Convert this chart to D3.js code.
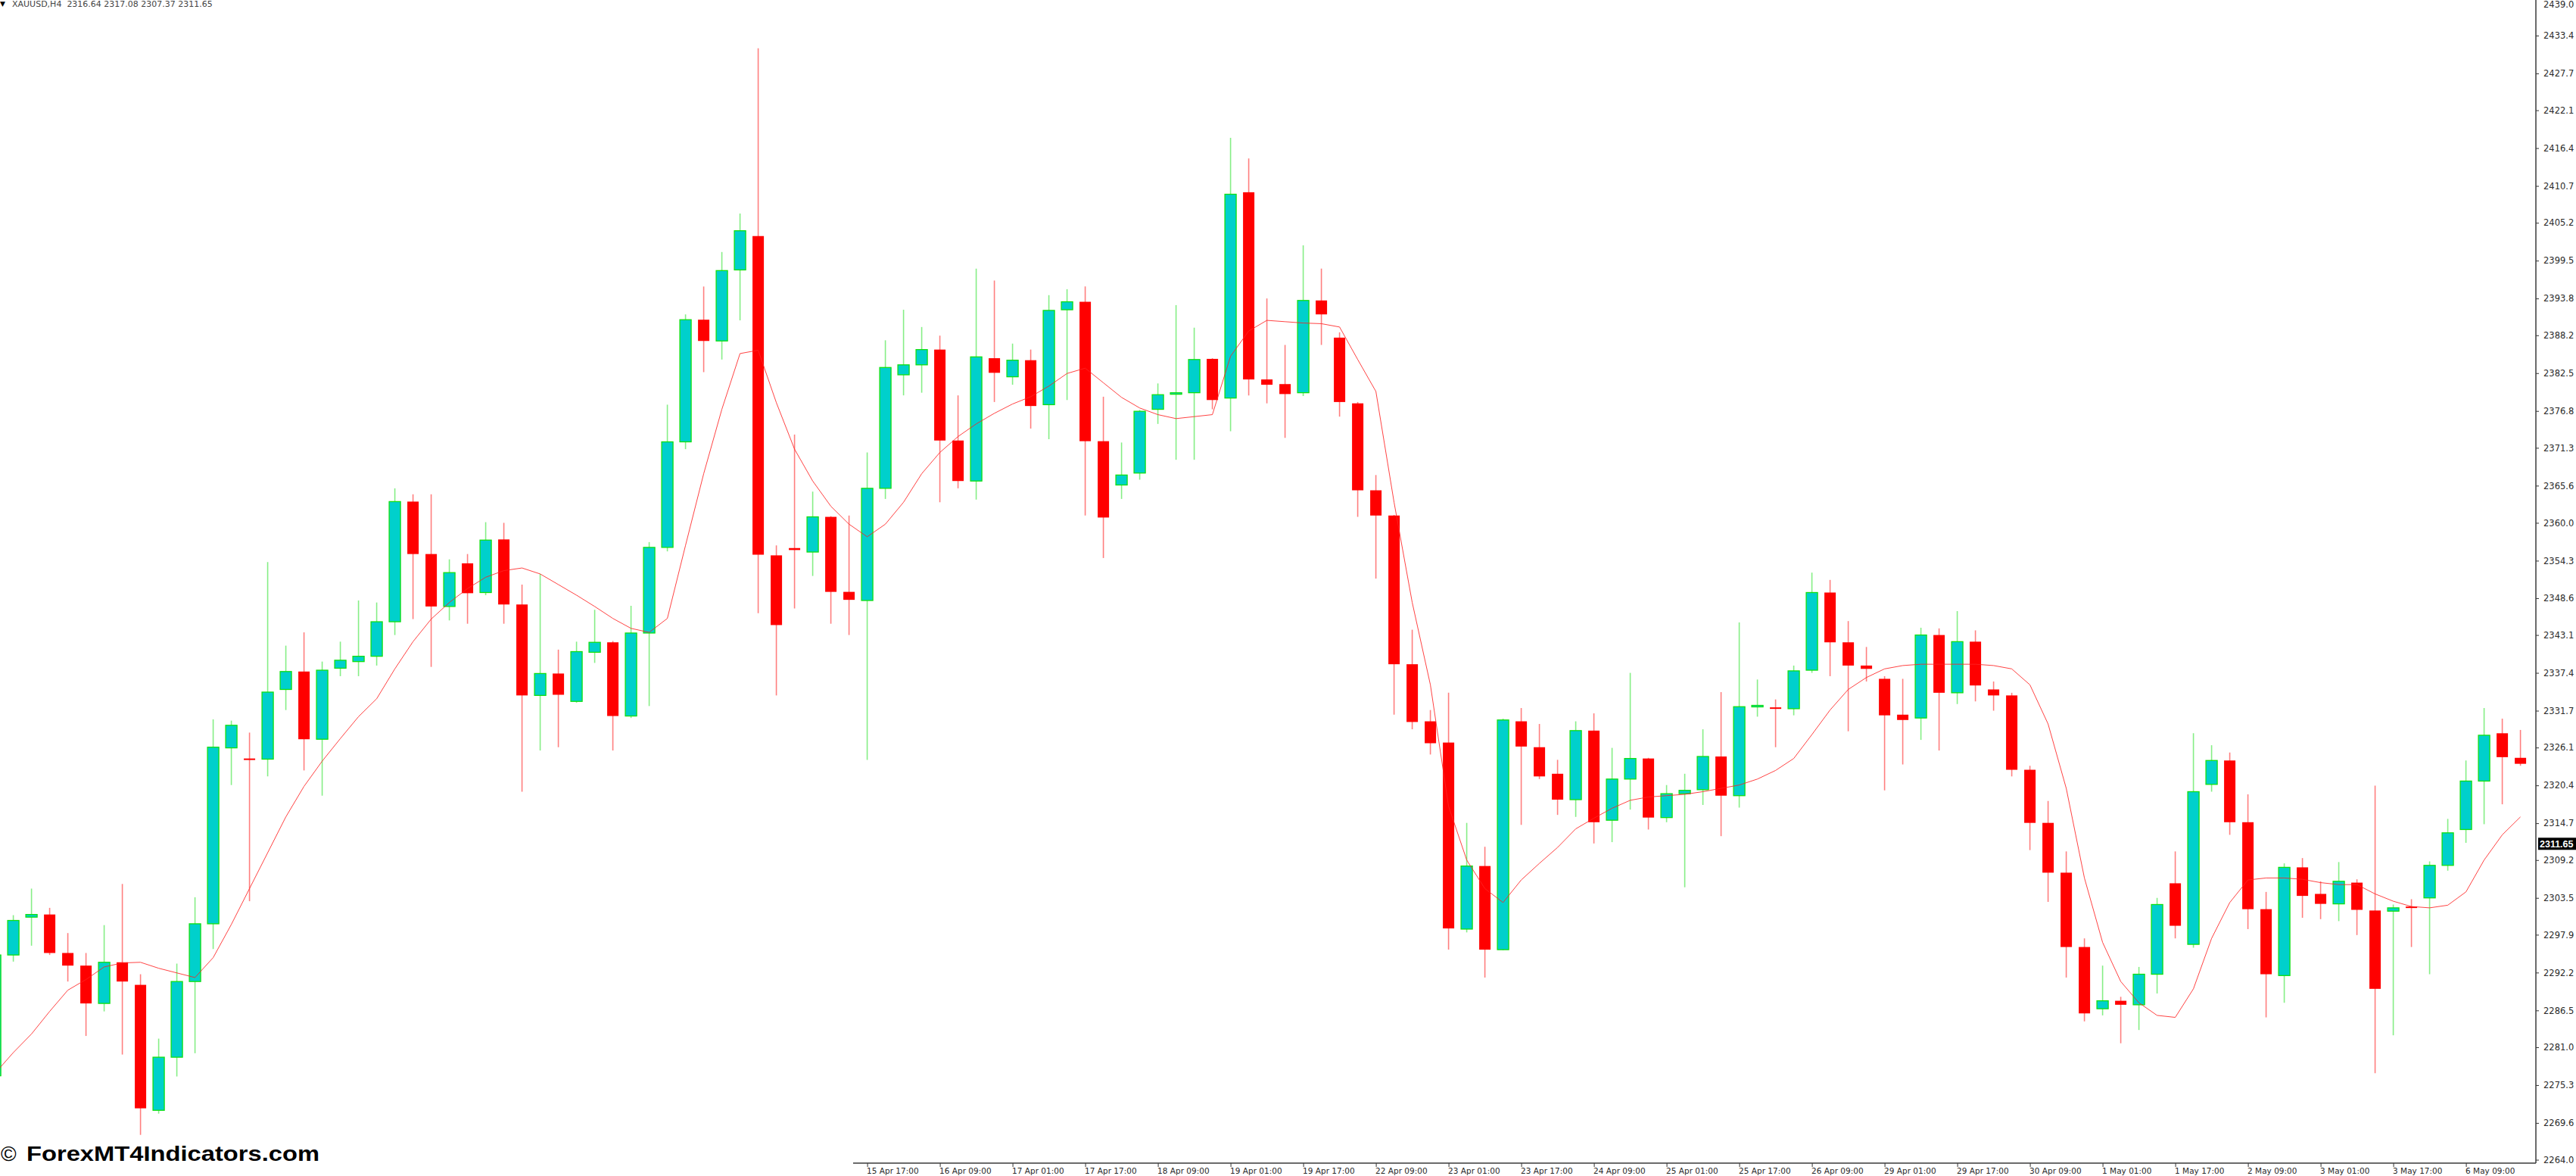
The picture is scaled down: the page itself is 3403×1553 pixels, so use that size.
<!DOCTYPE html>
<html><head><meta charset="utf-8">
<script src="https://cdn.jsdelivr.net/npm/d3@7/dist/d3.min.js"></script>
<style>html,body{margin:0;padding:0;background:#fff;overflow:hidden}</style>
</head><body>
<svg id="chart" width="3403" height="1553"></svg>
<script>
// ---- DATA (XAUUSD H4), bars from index -1 (partially visible) to 138 ----
const opens = [2276.7,2294.9,2300.6,2301.0,2295.2,2293.3,2287.6,2293.8,2290.4,2271.5,2279.5,2290.9,2299.6,2326.1,2324.5,2324.4,2334.9,2337.6,2327.4,2338.1,
2339.1,2339.9,2345.1,2363.2,2355.3,2347.4,2353.9,2349.5,2357.5,2347.7,2334.0,2337.3,2333.1,2340.5,2342.0,2330.9,2343.4,2356.3,2372.2,2390.6,
2387.4,2398.1,2403.2,2355.1,2356.2,2355.6,2360.9,2349.6,2348.3,2365.2,2382.3,2383.8,2386.1,2372.4,2366.3,2384.8,2382.0,2384.5,2377.8,2392.1,
2393.3,2372.3,2365.7,2367.5,2377.1,2379.4,2379.6,2384.7,2378.8,2409.8,2381.6,2380.9,2379.6,2393.5,2387.9,2378.0,2364.9,2361.1,2338.7,2330.1,
2326.9,2298.8,2308.3,2295.7,2330.1,2326.2,2322.2,2318.3,2328.7,2315.2,2321.4,2324.5,2315.6,2319.2,2319.8,2324.8,2318.9,2332.3,2332.2,2332.0,
2337.8,2349.5,2342.0,2338.5,2336.5,2331.1,2330.6,2343.1,2334.4,2342.1,2334.9,2334.0,2322.8,2314.8,2307.3,2296.1,2286.8,2288.0,2287.4,2292.0,
2305.7,2296.5,2320.6,2324.2,2314.9,2301.8,2291.8,2308.1,2304.1,2302.6,2305.8,2301.6,2301.5,2302.2,2303.5,2308.4,2313.8,2321.1,2328.3,2324.6];
const highs = [2296.0,2300.9,2304.9,2302.0,2298.2,2295.2,2299.4,2305.6,2292.0,2282.3,2293.6,2303.6,2330.4,2330.2,2328.4,2354.1,2341.5,2343.5,2339.1,2342.1,
2348.3,2348.0,2365.2,2364.3,2364.3,2354.5,2355.3,2360.1,2360.0,2350.7,2352.3,2340.9,2342.1,2346.9,2342.2,2347.5,2357.1,2377.8,2391.4,2395.6,
2400.8,2406.6,2431.5,2356.6,2373.3,2364.7,2361.0,2361.1,2370.6,2387.5,2392.1,2389.5,2388.2,2379.2,2398.3,2396.5,2387.0,2386.1,2394.3,2395.2,
2395.6,2379.0,2372.1,2377.0,2381.0,2392.8,2389.4,2384.8,2418.0,2414.9,2393.8,2386.8,2401.8,2398.3,2388.7,2378.2,2367.2,2361.2,2343.9,2331.8,
2334.4,2314.8,2311.2,2330.5,2332.1,2329.7,2324.3,2330.1,2331.3,2326.1,2337.4,2324.6,2320.5,2322.2,2328.9,2334.5,2345.0,2336.4,2333.4,2338.5,
2352.5,2351.4,2345.2,2341.3,2336.9,2336.5,2344.2,2344.1,2346.7,2343.8,2336.1,2334.4,2323.4,2318.1,2310.5,2297.4,2293.3,2288.6,2293.1,2303.5,
2310.5,2328.3,2326.5,2325.4,2319.1,2304.4,2308.7,2309.5,2306.0,2308.9,2306.3,2320.4,2302.5,2303.3,2309.0,2315.4,2324.2,2332.1,2330.5,2328.8];
const lows = [2275.0,2293.9,2296.3,2294.9,2290.9,2282.7,2286.4,2279.9,2267.8,2271.0,2276.6,2280.1,2295.8,2320.5,2303.0,2321.8,2331.8,2322.7,2318.9,2336.9,
2336.9,2338.5,2343.1,2345.5,2338.3,2345.3,2344.8,2349.1,2344.8,2319.5,2325.7,2326.2,2332.9,2338.9,2325.7,2330.6,2332.4,2355.7,2371.1,2382.7,
2384.6,2390.5,2346.4,2334.0,2347.1,2352.0,2344.8,2343.1,2324.3,2363.6,2379.2,2379.6,2363.1,2365.2,2363.5,2378.2,2380.8,2374.2,2372.6,2378.5,
2361.1,2354.7,2363.6,2366.5,2374.9,2369.5,2369.5,2377.1,2373.8,2379.2,2378.0,2372.8,2379.1,2386.8,2376.0,2360.9,2351.6,2331.1,2328.9,2325.1,
2295.7,2298.3,2291.5,2295.6,2314.5,2321.4,2316.0,2315.7,2311.7,2311.9,2316.8,2313.8,2314.9,2305.1,2317.5,2312.8,2317.1,2330.8,2326.2,2331.0,
2337.4,2336.9,2328.6,2336.1,2319.7,2323.6,2327.3,2325.7,2332.7,2333.1,2331.7,2321.8,2310.7,2302.9,2291.5,2284.9,2285.8,2281.6,2283.6,2289.1,
2297.4,2296.0,2319.5,2313.0,2298.8,2285.5,2287.7,2300.5,2300.3,2300.0,2297.9,2277.1,2282.8,2296.1,2292.0,2307.6,2311.8,2314.6,2317.6,2323.4];
const closes = [2294.9,2300.1,2301.0,2295.2,2293.3,2287.6,2293.8,2290.9,2271.8,2279.5,2290.9,2299.6,2326.2,2329.5,2324.3,2334.5,2337.6,2327.4,2337.8,2339.3,
2339.9,2345.1,2363.2,2355.3,2347.4,2352.5,2349.4,2357.4,2347.7,2334.0,2337.3,2334.1,2340.6,2342.0,2330.9,2343.4,2356.3,2372.2,2390.6,2387.4,
2398.0,2404.0,2355.2,2344.6,2355.9,2360.9,2349.6,2348.4,2365.2,2383.4,2383.8,2386.1,2372.4,2366.3,2385.0,2382.6,2384.5,2377.6,2392.0,2393.3,
2372.3,2360.8,2367.2,2376.8,2379.3,2379.6,2384.6,2378.5,2409.5,2381.6,2380.8,2379.4,2393.5,2391.4,2378.2,2364.9,2361.1,2338.7,2330.0,2326.8,
2298.9,2308.3,2295.7,2330.3,2326.3,2321.8,2318.3,2328.7,2314.9,2321.4,2324.5,2315.6,2319.2,2319.7,2324.8,2318.9,2332.3,2332.5,2332.0,2337.7,
2349.5,2342.0,2338.5,2338.0,2331.0,2330.3,2343.1,2334.4,2342.1,2335.5,2334.0,2322.8,2314.8,2307.3,2296.1,2286.1,2288.0,2287.4,2292.0,2302.5,
2299.3,2319.5,2324.2,2314.9,2301.8,2292.0,2308.1,2303.8,2302.6,2306.0,2301.7,2289.8,2302.0,2302.1,2308.4,2313.3,2321.1,2328.0,2324.7,2323.7];
const maValues = [2277.1,2280.2,2283.0,2286.4,2289.6,2291.2,2293.1,2293.7,2293.8,2292.9,2292.2,2291.5,2294.5,2299.5,2304.9,2310.3,2315.7,2320.3,2324.1,2327.5,
2330.8,2333.5,2338.0,2342.1,2345.5,2348.0,2350.1,2351.8,2352.8,2353.2,2352.3,2350.7,2349.1,2347.4,2345.6,2344.1,2343.5,2345.6,2356.6,2367.4,
2377.1,2385.5,2386.0,2378.1,2371.1,2366.3,2362.5,2359.8,2357.9,2359.8,2363.1,2367.4,2370.6,2373.0,2374.9,2376.5,2377.9,2379.0,2380.6,2382.5,
2383.3,2381.1,2378.9,2377.3,2376.3,2375.7,2376.0,2376.3,2385.1,2388.9,2390.5,2390.3,2390.1,2390.0,2389.5,2384.6,2379.8,2363.1,2348.0,2335.6,
2317.3,2309.2,2304.9,2302.8,2306.2,2308.7,2311.1,2313.9,2315.5,2317.0,2318.2,2318.7,2318.9,2319.1,2319.5,2320.0,2320.5,2321.4,2322.7,2324.5,
2328.1,2331.8,2334.9,2336.7,2338.0,2338.5,2338.7,2338.7,2338.7,2338.7,2338.5,2338.0,2335.6,2329.7,2320.0,2306.5,2296.8,2290.9,2287.7,2285.8,
2285.5,2289.8,2297.4,2302.8,2306.2,2306.5,2306.5,2306.3,2305.8,2305.5,2305.5,2304.1,2303.0,2302.2,2302.0,2302.4,2304.4,2309.2,2313.0,2315.7];
const firstBarIndex = -1;
const priceTicks = [2439.05,2433.40,2427.70,2422.15,2416.45,2410.75,2405.20,2399.50,2393.80,2388.25,2382.55,2376.85,2371.30,2365.60,2360.00,2354.30,
2348.65,2343.10,2337.40,2331.70,2326.15,2320.45,2314.75,2309.20,2303.50,2297.95,2292.25,2286.55,2281.00,2275.30,2269.60,2264.05];
const timeLabels = ["15 Apr 01:00","15 Apr 17:00","16 Apr 09:00","17 Apr 01:00","17 Apr 17:00","18 Apr 09:00","19 Apr 01:00","19 Apr 17:00",
"22 Apr 09:00","23 Apr 01:00","23 Apr 17:00","24 Apr 09:00","25 Apr 01:00","25 Apr 17:00","26 Apr 09:00","29 Apr 01:00","29 Apr 17:00",
"30 Apr 09:00","1 May 01:00","1 May 17:00","2 May 09:00","3 May 01:00","3 May 17:00","6 May 09:00"];
const firstLabelBar = 43, labelEvery = 4;
const currentPrice = 2311.65;
const headerText = "XAUUSD,H4  2316.64 2317.08 2307.37 2311.65";
const watermark = "ForexMT4Indicators.com";

// ---- LAYOUT ----
const W = 3403, H = 1553;
const axisX = 3350, axisY = 1536;
const bars = opens.map((o, k) => ({i: firstBarIndex + k, o, h: highs[k], l: lows[k], c: closes[k], ma: maValues[k]}));
const x = d3.scaleLinear().domain([-1, 138]).range([-6.4, 3329.6]);
const y = d3.scaleLinear().domain([2264.0, 2433.4]).range([1532, 47]);

const svg = d3.select('#chart');
svg.append('rect').attr('width', W).attr('height', H).attr('fill', '#fff');
svg.append('defs').append('clipPath').attr('id', 'plot')
  .append('rect').attr('x', 0).attr('y', 0).attr('width', axisX).attr('height', axisY);

const plot = svg.append('g').attr('clip-path', 'url(#plot)');
const bodyW = 15;
// wicks
plot.selectAll('line.wick').data(bars).join('line').attr('class', 'wick')
  .attr('x1', d => x(d.i)).attr('x2', d => x(d.i))
  .attr('y1', d => y(d.h)).attr('y2', d => y(d.l))
  .attr('stroke', d => d.c >= d.o ? '#86ee86' : '#ff7f7f').attr('stroke-width', 1.6);
// bodies
plot.selectAll('rect.body').data(bars).join('rect').attr('class', 'body')
  .attr('x', d => x(d.i) - bodyW / 2).attr('width', bodyW)
  .attr('y', d => y(Math.max(d.o, d.c)))
  .attr('height', d => Math.max(2, Math.abs(y(d.o) - y(d.c))))
  .attr('fill', d => d.c >= d.o ? '#00d0cc' : '#ff0000')
  .attr('stroke', d => d.c >= d.o ? '#10e010' : 'none')
  .attr('stroke-width', 1.3);
// moving average
plot.append('path').datum(bars)
  .attr('d', d3.line().x(d => x(d.i)).y(d => y(d.ma)))
  .attr('fill', 'none').attr('stroke', '#ff2222').attr('stroke-width', 1).attr('opacity', 0.85);

// price axis (labels truncated to one decimal, as the visible part of the reference shows)
const trunc1 = d => (Math.floor(d * 10 + 1e-6) / 10).toFixed(1);
const yAxis = d3.axisRight(y).tickValues(priceTicks).tickFormat(trunc1).tickSize(4).tickPadding(6);
const gy = svg.append('g').attr('transform', `translate(${axisX},0)`).call(yAxis);
gy.select('.domain').remove();
gy.selectAll('line').attr('stroke', '#333');
gy.selectAll('text').attr('font-family', 'DejaVu Sans, sans-serif').attr('font-size', 11.5).attr('fill', '#2a2a2a');
// keep the top label fully inside the page
gy.selectAll('.tick').filter(d => y(d) < 6).select('text').attr('y', d => 6 - y(d));

// time axis
const tickBars = timeLabels.map((_, k) => firstLabelBar + k * labelEvery);
const xAxis = d3.axisBottom(x).tickValues(tickBars).tickFormat((d, k) => timeLabels[k]).tickSize(5).tickPadding(3);
const gx = svg.append('g').attr('transform', `translate(0,${axisY})`).call(xAxis);
gx.select('.domain').remove();
gx.selectAll('line').attr('stroke', '#333');
gx.selectAll('text').attr('text-anchor', 'start').attr('dx', -1).attr('y', 13.5)
  .attr('dy', 0).attr('font-family', 'DejaVu Sans, sans-serif').attr('font-size', 10.5).attr('fill', '#2a2a2a');

// frame lines
svg.append('line').attr('x1', axisX).attr('x2', axisX).attr('y1', 0).attr('y2', axisY).attr('stroke', '#3a3a3a').attr('stroke-width', 1.5);
svg.append('line').attr('x1', 0).attr('x2', axisX).attr('y1', axisY).attr('y2', axisY).attr('stroke', '#3a3a3a').attr('stroke-width', 1.5);

// current price label
const cpY = y(currentPrice);
svg.append('rect').attr('x', axisX + 3).attr('y', cpY - 8).attr('width', 60).attr('height', 16).attr('fill', '#000');
svg.append('text').attr('x', axisX + 5).attr('y', cpY + 4.5).text(currentPrice.toFixed(2))
  .attr('font-family', 'Liberation Sans, Arial, sans-serif').attr('font-weight', 'bold').attr('font-size', 12.5).attr('fill', '#fff');

// header
svg.append('text').attr('x', 0).attr('y', 8).text('\u25BC').attr('font-family', 'DejaVu Sans, sans-serif').attr('font-size', 9).attr('fill', '#000');
svg.append('text').attr('x', 16).attr('y', 9).text(headerText)
  .attr('font-family', 'DejaVu Sans, sans-serif').attr('font-size', 11).attr('fill', '#444').attr('xml:space', 'preserve');

// watermark
svg.append('rect').attr('x', 0).attr('y', 1500).attr('width', 1127).attr('height', 53).attr('fill', '#fff');
svg.append('text').attr('x', 1).attr('y', 1533).text('\u00A9')
  .attr('font-family', 'Liberation Sans, Arial, sans-serif').attr('font-size', 28).attr('fill', '#000');
svg.append('text').attr('x', 35).attr('y', 1533).text(watermark)
  .attr('font-family', 'Liberation Sans, Arial, sans-serif').attr('font-weight', 'bold').attr('font-size', 28)
  .attr('textLength', 387).attr('lengthAdjust', 'spacingAndGlyphs').attr('fill', '#000');
</script>
</body></html>
